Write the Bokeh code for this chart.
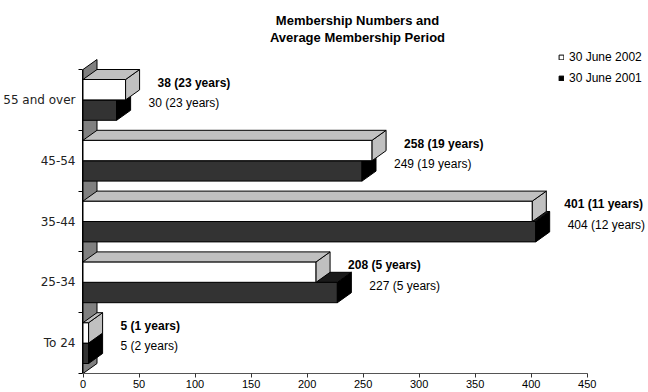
from bokeh.plotting import figure
from bokeh.models import (Range1d, FixedTicker, ColumnDataSource, Label,
                          Legend, LegendItem)
from bokeh.core.properties import value
from bokeh.embed import file_html
from bokeh.resources import INLINE

# ---------------- data ----------------
categories = ["To 24", "25-34", "35-44", "45-54", "55 and over"]
members_2002 = [5, 208, 401, 258, 38]
years_2002 = [1, 5, 11, 19, 23]
members_2001 = [5, 227, 404, 249, 30]
years_2001 = [2, 5, 12, 19, 23]
series_names = ["30 June 2002", "30 June 2001"]
x_ticks = [0, 50, 100, 150, 200, 250, 300, 350, 400, 450]
title_lines = ["Membership Numbers and", "Average Membership Period"]

# ---------------- geometry / style ----------------
W, H = 648, 392
LEFT, BOTTOM = 82, 19
PX_X = 1.1205          # pixels per member
PX_Y = 60.8            # pixels per category band
DX = 14 / PX_X         # 3-D depth, x
DY = 10 / PX_Y         # 3-D depth, y
GAP = 10 / PX_Y
BAR_H = (1 - 2 * GAP) / 2
LABEL_DX = 32 / PX_X
LABEL_DY = 7 / PX_Y
FONT = "Liberation Sans"

frame_w = W - LEFT
frame_h = H - BOTTOM
x0 = -0.5 / PX_X

p = figure(width=W, height=H,
           x_range=Range1d(x0, x0 + frame_w / PX_X),
           y_range=Range1d(0, frame_h / PX_Y),
           output_backend="svg", toolbar_location=None,
           min_border_left=LEFT, min_border_right=0,
           min_border_top=0, min_border_bottom=BOTTOM)
p.outline_line_color = None
p.xgrid.visible = False
p.ygrid.visible = False
p.background_fill_color = "white"
p.border_fill_color = "white"

n = len(categories)

# left wall
p.patch([0, DX, DX, 0], [0, DY, n + DY, n], fill_color="#808080",
        line_color="black", line_width=1)


def faces(values, offset):
    front_x, front_y, side_x, side_y, top_x, top_y = [], [], [], [], [], []
    for i, v in enumerate(values):
        lo = i + GAP + offset
        hi = lo + BAR_H
        front_x.append([0, v, v, 0])
        front_y.append([lo, lo, hi, hi])
        side_x.append([v, v + DX, v + DX, v])
        side_y.append([lo, lo + DY, hi + DY, hi])
        top_x.append([0, v, v + DX, DX])
        top_y.append([hi, hi, hi + DY, hi + DY])
    return (dict(xs=front_x, ys=front_y), dict(xs=side_x, ys=side_y),
            dict(xs=top_x, ys=top_y))


# 2001 series (lower, dark), drawn first
f1, s1, t1 = faces(members_2001, 0)
dark_front = p.patches("xs", "ys", source=ColumnDataSource(f1),
                       fill_color="#333333", line_color="black", line_width=1)
dark_side = p.patches("xs", "ys", source=ColumnDataSource(s1),
                      fill_color="#000000", line_color="black", line_width=1)
p.patches("xs", "ys", source=ColumnDataSource(t1),
          fill_color="#1a1a1a", line_color="black", line_width=1)

# 2002 series (upper, white)
f2, s2, t2 = faces(members_2002, BAR_H)
white_front = p.patches("xs", "ys", source=ColumnDataSource(f2),
                        fill_color="white", line_color="black", line_width=1)
p.patches("xs", "ys", source=ColumnDataSource(s2),
          fill_color="#c0c0c0", line_color="black", line_width=1)
p.patches("xs", "ys", source=ColumnDataSource(t2),
          fill_color="#c0c0c0", line_color="black", line_width=1)

# data labels
lab2002 = ColumnDataSource(dict(
    x=[v + LABEL_DX for v in members_2002],
    y=[i + GAP + 1.5 * BAR_H + LABEL_DY for i in range(n)],
    t=[f"{m} ({y} years)" for m, y in zip(members_2002, years_2002)]))
lab2001 = ColumnDataSource(dict(
    x=[v + LABEL_DX for v in members_2001],
    y=[i + GAP + 0.5 * BAR_H + LABEL_DY for i in range(n)],
    t=[f"{m} ({y} years)" for m, y in zip(members_2001, years_2001)]))
p.text("x", "y", text="t", source=lab2002, text_font=value(FONT),
       text_font_size="12px", text_font_style="bold", text_color="black",
       text_align="left", text_baseline="middle")
p.text("x", "y", text="t", source=lab2001, text_font=value(FONT),
       text_font_size="12px", text_color="black",
       text_align="left", text_baseline="middle")

# axes
xa = p.xaxis[0]
xa.ticker = FixedTicker(ticks=x_ticks)
xa.bounds = (0, x_ticks[-1])
xa.major_tick_out = 4
xa.major_tick_in = 0
xa.minor_tick_out = 0
xa.minor_tick_in = 0
xa.axis_line_color = "#555555"
xa.major_tick_line_color = "#333333"
xa.major_label_standoff = 2
xa.major_label_text_font = FONT
xa.major_label_text_font_size = "11px"
xa.major_label_text_color = "black"

ya = p.yaxis[0]
ya.ticker = FixedTicker(ticks=[i + 0.5 for i in range(n)],
                        minor_ticks=list(range(n + 1)))
ya.major_label_overrides = {i + 0.5: c for i, c in enumerate(categories)}
ya.bounds = (0, n)
ya.major_tick_out = 0
ya.major_tick_in = 0
ya.minor_tick_out = 4
ya.minor_tick_in = 0
ya.axis_line_color = "black"
ya.minor_tick_line_color = "black"
ya.major_label_standoff = 3
ya.major_label_text_font = "DejaVu Sans"
ya.major_label_text_font_size = "12px"
ya.major_label_text_color = "#222222"

# title
for k, line in enumerate(title_lines):
    p.add_layout(Label(x=357 - LEFT, y=frame_h - (19.5 + 17.5 * k),
                       x_units="screen", y_units="screen", text=line,
                       text_align="center", text_baseline="middle",
                       text_font=FONT, text_font_size="13px",
                       text_font_style="bold", text_color="black"))

# legend
legend = Legend(items=[LegendItem(label=series_names[0], renderers=[white_front]),
                       LegendItem(label=series_names[1], renderers=[dark_side])],
                location=(558 - LEFT, frame_h - 86.5),
                glyph_width=6, glyph_height=6, label_standoff=5, spacing=3,
                label_height=18, padding=0, margin=0,
                border_line_color=None, background_fill_alpha=0,
                label_text_font=FONT, label_text_font_size="12px",
                label_text_color="black")
p.add_layout(legend)

open("out.html", "w").write(file_html(p, INLINE))
